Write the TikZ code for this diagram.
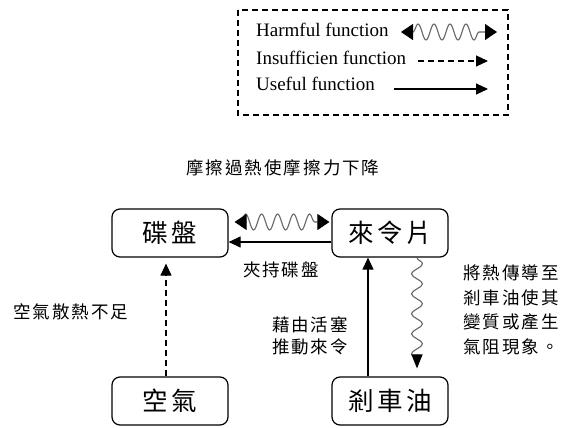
\documentclass[tikz,border=0pt]{standalone}
\usepackage{fontspec}
\setmainfont{Liberation Serif}
\newfontfamily\cjk{Noto Sans CJK TC}
\usetikzlibrary{arrows.meta,decorations.pathmorphing}

% space out the characters of a CJK string
\newlength\chargap
\def\cjkspread#1{\cjkspreadloop#1\relax}
\def\cjkspreadloop#1#2{#1\ifx\relax#2\else\hskip\chargap\expandafter\cjkspreadloop\expandafter#2\fi}

\newcommand\boxfont{\cjk\fontsize{25.5}{28}\selectfont\setlength\chargap{3.5pt}}
\newcommand\lblfont{\cjk\fontsize{17.5}{22}\selectfont\setlength\chargap{2pt}}

\tikzset{
  box/.style={draw, line width=1.2pt, rounded corners=8pt, minimum width=116pt, minimum height=48pt, font=\boxfont},
  lbl/.style={inner sep=0pt, font=\lblfont},
  legtxt/.style={anchor=base west, inner sep=0pt, font=\fontsize{19}{22}\selectfont},
  useful/.style={-{Triangle[length=12pt,width=11pt]}, line width=1.2pt},
  lacking/.style={useful, dash pattern=on 6pt off 4pt},
  harmful/.style={draw=black!60, line width=1.1pt, decorate,
    decoration={snake, segment length=16pt, amplitude=8pt, pre length=12pt, post length=12pt}},
  harmtip/.style={{Triangle[length=12pt,width=16pt,color=black]}-{Triangle[length=12pt,width=16pt,color=black]}},
}

\begin{document}
\begin{tikzpicture}[x=1pt, y=-1pt]
        \useasboundingbox (0,0) rectangle (565,428);

        % legend
        \draw[line width=1.3pt, dash pattern=on 6pt off 4pt] (238,10) rectangle (508,115);
        \node[legtxt] (harmtxt) at (256,37) {Harmful function};
        \node[legtxt] (lacktxt) at (256,64) {Insufficien function};
        \node[legtxt] (usetxt) at (256,91) {Useful function};
        \coordinate (hs) at (401,32); \coordinate (he) at (497,32);
        \coordinate (ls) at (418,61); \coordinate (le) at (488,61);
        \coordinate (us) at (394,89); \coordinate (ue) at (488,89);
        \draw[harmful, harmtip] (hs) -- (he);
        \draw[lacking] (ls) -- (le);
        \draw[useful] (us) -- (ue);

        % boxes
        \node[box] (disc) at (170,233) {\cjkspread{碟盤}};
        \node[box] (pad) at (390,233) {\cjkspread{來令片}};
        \node[box] (air) at (170,401) {\cjkspread{空氣}};
        \node[box] (oil) at (390,401) {\cjkspread{剎車油}};

        % functions
        \draw[harmful, harmtip, shorten <=6pt, shorten >=2pt] ([yshift=11pt]disc.east) -- ([yshift=11pt]pad.west);
        \draw[useful] ([yshift=-9pt]pad.west) -- ([yshift=-9pt]disc.east);
        \draw[lacking, shorten >=6pt] ([xshift=-4pt]air.north) -- ([xshift=-4pt]disc.south);
        \draw[useful] ([xshift=-22pt]oil.north) -- ([xshift=-22pt]pad.south);
        \draw[harmful, decoration={segment length=20pt, amplitude=5.5pt, pre length=0pt, post length=14pt},
              -{Triangle[length=14pt,width=11pt,color=black]}, shorten >=8pt]
              ([xshift=27pt]pad.south) -- ([xshift=27pt]oil.north);

        % labels
        \node[lbl] (title) at (283,168) {\cjkspread{摩擦過熱使摩擦力下降}};
        \node[lbl] (clamp) at (281,270) {\cjkspread{夾持碟盤}};
        \node[lbl] (cool) at (71,312) {\cjkspread{空氣散熱不足}};
        \node[lbl, align=left] (push) at (310,336) {\cjkspread{藉由活塞}\\\cjkspread{推動來令}};
        \node[lbl, align=left, font=\lblfont\fontsize{17.5}{24.5}\selectfont] (heat) at (511,310)
              {\cjkspread{將熱傳導至}\\\cjkspread{剎車油使其}\\\cjkspread{變質或產生}\\\cjkspread{氣阻現象。}};

        \end{tikzpicture}
\end{document}
